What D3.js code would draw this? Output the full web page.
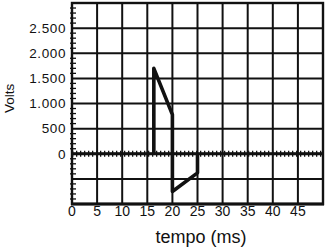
<!DOCTYPE html>
<html>
<head>
<meta charset="utf-8">
<script src="https://cdn.jsdelivr.net/npm/d3@7"></script>
<style>
  html, body { margin: 0; padding: 0; background: #fff; }
  svg { display: block; }
</style>
</head>
<body>
<div id="chart"></div>
<script>
// Oscillogram data: time in ms, voltage in V
const timeTicks = [0, 5, 10, 15, 20, 25, 30, 35, 40, 45];
const voltTicks = [0, 500, 1000, 1500, 2000, 2500];
const gridTimes = [5, 10, 15, 20, 25, 30, 35, 40, 45];
const gridVolts = [-500, 0, 500, 1000, 1500, 2000, 2500];
const minorVolts = d3.range(-900, 3000, 100);

// Trace: baseline noise around zero plus the pulse
const baselineT = [0, 50];
const baselineV = [0, 0];
const pulseT = [16.3, 16.3, 20.0, 20.0, 25.0, 25.0];
const pulseV = [0, 1700, 780, -750, -380, 0];

const width = 329;
const height = 250;
const plot = { left: 72, right: 323, top: 3, bottom: 204 };

const x = d3.scaleLinear().domain([0, 50]).range([plot.left, plot.right]);
const y = d3.scaleLinear().domain([-1000, 3000]).range([plot.bottom, plot.top]);

const es = d3.formatLocale({ decimal: ",", thousands: ".", grouping: [3], currency: ["", ""] });
const fmt = es.format(",");

const FONT = "'Liberation Sans', Arial, sans-serif";
const INK = "#111";

const svg = d3.select("#chart")
  .append("svg")
  .attr("width", width)
  .attr("height", height);

// Grid
svg.append("g")
  .selectAll("line")
  .data(gridTimes)
  .join("line")
  .attr("x1", (d) => x(d)).attr("x2", (d) => x(d))
  .attr("y1", plot.top).attr("y2", plot.bottom)
  .attr("stroke", INK).attr("stroke-width", 2);

svg.append("g")
  .selectAll("line")
  .data(gridVolts)
  .join("line")
  .attr("x1", plot.left).attr("x2", plot.right)
  .attr("y1", (d) => y(d)).attr("y2", (d) => y(d))
  .attr("stroke", INK).attr("stroke-width", 2);

// Minor ticks along the voltage axis
svg.append("g")
  .selectAll("line")
  .data(minorVolts.filter((v) => v % 500 !== 0))
  .join("line")
  .attr("x1", plot.left - 2).attr("x2", plot.left + 4)
  .attr("y1", (d) => y(d)).attr("y2", (d) => y(d))
  .attr("stroke", INK).attr("stroke-width", 1.3);

// Frame
svg.append("rect")
  .attr("x", plot.left).attr("y", plot.top)
  .attr("width", plot.right - plot.left)
  .attr("height", plot.bottom - plot.top)
  .attr("fill", "none")
  .attr("stroke", INK).attr("stroke-width", 2.4);

svg.append("line")
  .attr("x1", plot.left - 1).attr("x2", plot.right + 1)
  .attr("y1", plot.bottom).attr("y2", plot.bottom)
  .attr("stroke", INK).attr("stroke-width", 3);

// Tick labels
svg.append("g")
  .selectAll("text")
  .data(voltTicks)
  .join("text")
  .attr("x", plot.left - 6)
  .attr("y", (d) => y(d))
  .attr("dy", "0.36em")
  .attr("text-anchor", "end")
  .attr("font-family", FONT)
  .attr("font-size", 13.5)
  .attr("letter-spacing", 0.6)
  .attr("fill", INK)
  .text((d) => fmt(d));

svg.append("g")
  .selectAll("text")
  .data(timeTicks)
  .join("text")
  .attr("x", (d) => x(d))
  .attr("y", plot.bottom + 12)
  .attr("text-anchor", "middle")
  .attr("font-family", FONT)
  .attr("font-size", 14)
  .attr("fill", INK)
  .text((d) => d);

// Axis titles
svg.append("text")
  .attr("transform", `translate(14,${y(1100)}) rotate(-90)`)
  .attr("text-anchor", "middle")
  .attr("font-family", FONT)
  .attr("font-size", 13.5)
  .attr("fill", INK)
  .text("Volts");

svg.append("text")
  .attr("x", 201)
  .attr("y", 243)
  .attr("text-anchor", "middle")
  .attr("font-family", FONT)
  .attr("font-size", 18)
  .attr("fill", INK)
  .text("tempo (ms)");

// Trace
const line = d3.line().x((d) => x(d[0])).y((d) => y(d[1]));
const baseline = d3.zip(baselineT, baselineV);

svg.append("path")
  .attr("d", line(baseline))
  .attr("fill", "none")
  .attr("stroke", INK).attr("stroke-width", 2.8);

// hatched look of the noisy baseline
svg.append("path")
  .attr("d", line(baseline))
  .attr("fill", "none")
  .attr("stroke", INK).attr("stroke-width", 6)
  .attr("stroke-dasharray", "1.3 2.7");

svg.append("path")
  .attr("d", line(d3.zip(pulseT, pulseV)))
  .attr("fill", "none")
  .attr("stroke", INK).attr("stroke-width", 3.6)
  .attr("stroke-linejoin", "round");
</script>
</body>
</html>
